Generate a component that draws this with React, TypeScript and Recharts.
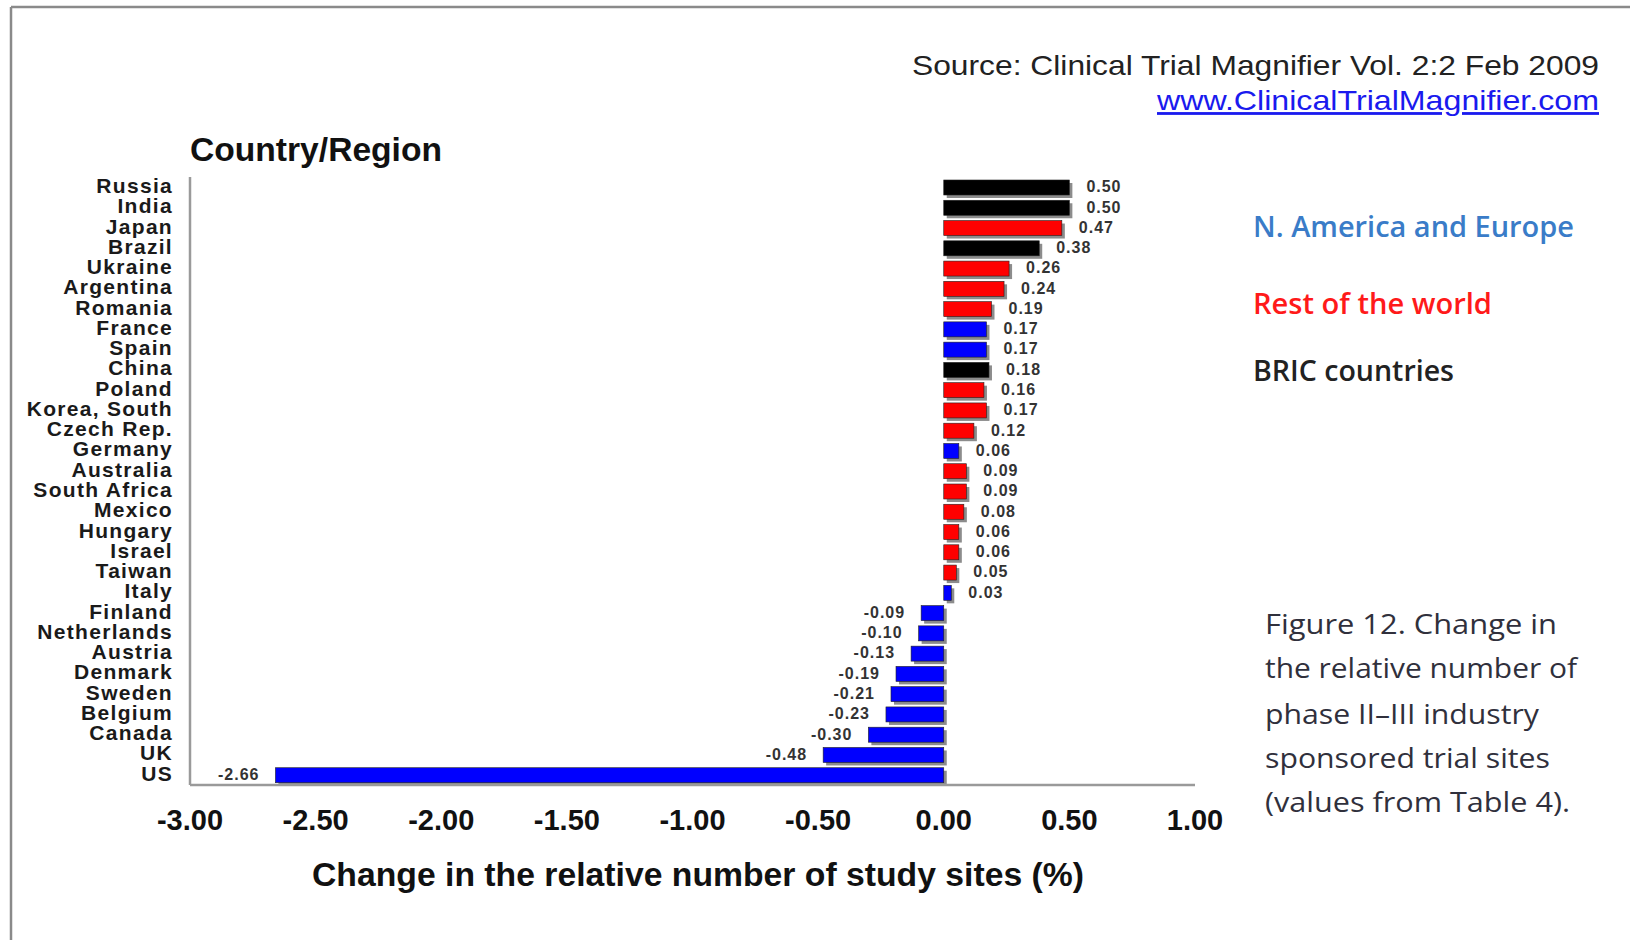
import React from "react";
import { BarChart, Bar, XAxis, YAxis, Cell, LabelList } from "recharts";

const categories = [
  "Russia", "India", "Japan", "Brazil", "Ukraine", "Argentina", "Romania", "France", "Spain", "China",
  "Poland", "Korea, South", "Czech Rep.", "Germany", "Australia", "South Africa", "Mexico", "Hungary", "Israel", "Taiwan",
  "Italy", "Finland", "Netherlands", "Austria", "Denmark", "Sweden", "Belgium", "Canada", "UK", "US",
];
const values = [
  0.5, 0.5, 0.47, 0.38, 0.26, 0.24, 0.19, 0.17, 0.17, 0.18,
  0.16, 0.17, 0.12, 0.06, 0.09, 0.09, 0.08, 0.06, 0.06, 0.05,
  0.03, -0.09, -0.1, -0.13, -0.19, -0.21, -0.23, -0.3, -0.48, -2.66,
];
// B = BRIC, R = rest of the world, N = N. America and Europe
const groups = [
  "B", "B", "R", "B", "R", "R", "R", "N", "N", "B",
  "R", "R", "R", "N", "R", "R", "R", "R", "R", "R",
  "N", "N", "N", "N", "N", "N", "N", "N", "N", "N",
];
const xTicks = [-3, -2.5, -2, -1.5, -1, -0.5, 0, 0.5, 1];

const groupColors: Record<string, string> = { B: "#000000", R: "#ff0000", N: "#0000ff" };

const data = categories.map((name, i) => ({ name, value: values[i], group: groups[i] }));

const BarShape = (props: any) => {
  const { x, y, width, height, fill } = props;
  const x0 = width < 0 ? x + width : x;
  const w = Math.abs(width);
  return (
    <g>
      <rect x={x0 + 3} y={y + 3} width={w} height={height} fill="#8c8c8c" />
      <rect x={x0} y={y} width={w} height={height} fill={fill} stroke="#222" strokeWidth={0.6} />
    </g>
  );
};

const ValueLabel = (props: any) => {
  const { x, y, width, height, value } = props;
  const x0 = width < 0 ? x + width : x;
  const w = Math.abs(width);
  const pos = value >= 0;
  return (
    <text
      x={pos ? x0 + w + 17 : x0 - 16}
      y={y + height / 2}
      dy="0.3em"
      textAnchor={pos ? "start" : "end"}
      fontFamily="'Liberation Sans', Arial, sans-serif"
      fontWeight="bold"
      fontSize={16}
      letterSpacing={1}
      fill="#333"
    >
      {Number(value).toFixed(2)}
    </text>
  );
};

const YTick = (props: any) => {
  const { x, y, payload } = props;
  return (
    <text
      x={x}
      y={y}
      dy="0.28em"
      textAnchor="end"
      fontFamily="'Liberation Sans', Arial, sans-serif"
      fontWeight="bold"
      fontSize={21}
      letterSpacing={1.3}
      fill="#1a1a1a"
    >
      {payload.value}
    </text>
  );
};

const XTick = (props: any) => {
  const { x, y, payload } = props;
  return (
    <text
      x={x}
      y={y}
      dy="0.32em"
      textAnchor="middle"
      fontFamily="'Liberation Sans', Arial, sans-serif"
      fontWeight="bold"
      fontSize={29}
      fill="#111"
    >
      {Number(payload.value).toFixed(2)}
    </text>
  );
};

const captionLines = [
  "Figure 12. Change in",
  "the relative number of",
  "phase II\u2013III industry",
  "sponsored trial sites",
  "(values from Table 4).",
];
const captionWidths = [292, 312, 274, 285, 305];
const captionY = [624, 668, 714, 758, 802];

export default function App() {
  return (
    <div style={{ position: "absolute", left: 0, top: 0, width: 1630, height: 940, background: "#fff" }}>
      <BarChart
        width={1630}
        height={940}
        data={data}
        layout="vertical"
        margin={{ top: 177, right: 435, bottom: 95, left: 0 }}
        barSize={15}
      >
        <XAxis
          type="number"
          domain={[-3, 1]}
          ticks={xTicks}
          allowDataOverflow
          height={60}
          tickLine={false}
          tickSize={0}
          tickMargin={36}
          axisLine={{ stroke: "#9a9a9a", strokeWidth: 2.5 }}
          tick={<XTick />}
          interval={0}
        />
        <YAxis
          type="category"
          dataKey="name"
          width={190}
          tickLine={false}
          tickSize={0}
          tickMargin={17}
          axisLine={{ stroke: "#9a9a9a", strokeWidth: 2.5 }}
          tick={<YTick />}
          interval={0}
        />
        <Bar dataKey="value" isAnimationActive={false} shape={<BarShape />}>
          {data.map((d, i) => (
            <Cell key={i} fill={groupColors[d.group]} />
          ))}
          <LabelList dataKey="value" content={<ValueLabel />} />
        </Bar>
      </BarChart>
      <svg
        width={1630}
        height={940}
        style={{ position: "absolute", left: 0, top: 0, pointerEvents: "none" }}
      >
        <line x1={11} y1={7} x2={1630} y2={7} stroke="#8a8a8a" strokeWidth={2.5} />
        <line x1={11} y1={7} x2={11} y2={940} stroke="#8a8a8a" strokeWidth={2.5} />
        <text
          x={1599}
          y={65}
          dy="0.36em"
          textAnchor="end"
          fontFamily="'Liberation Sans', Arial, sans-serif"
          fontSize={28}
          fill="#222"
          textLength={687}
          lengthAdjust="spacingAndGlyphs"
        >
          Source: Clinical Trial Magnifier Vol. 2:2 Feb 2009
        </text>
        <text
          x={1599}
          y={100}
          dy="0.36em"
          textAnchor="end"
          fontFamily="'Liberation Sans', Arial, sans-serif"
          fontSize={28}
          fill="#1a1aee"
          textDecoration="underline"
          textLength={442}
          lengthAdjust="spacingAndGlyphs"
        >
          www.ClinicalTrialMagnifier.com
        </text>
        <text
          x={190}
          y={149}
          dy="0.36em"
          fontFamily="'Liberation Sans', Arial, sans-serif"
          fontWeight="bold"
          fontSize={33}
          fill="#111"
          textLength={252}
          lengthAdjust="spacingAndGlyphs"
        >
          Country/Region
        </text>
        <text
          x={698}
          y={874}
          dy="0.36em"
          textAnchor="middle"
          fontFamily="'Liberation Sans', Arial, sans-serif"
          fontWeight="bold"
          fontSize={33}
          fill="#111"
          textLength={772}
          lengthAdjust="spacingAndGlyphs"
        >
          Change in the relative number of study sites (%)
        </text>
        <text x={1253} y={227} dy="0.36em" fontFamily="'Open Sans', sans-serif" fontWeight={600} fontSize={28} fill="#3a7cc8" textLength={321} lengthAdjust="spacingAndGlyphs">
          N. America and Europe
        </text>
        <text x={1253} y={304} dy="0.36em" fontFamily="'Open Sans', sans-serif" fontWeight={600} fontSize={28} fill="#ff1a1a" textLength={239} lengthAdjust="spacingAndGlyphs">
          Rest of the world
        </text>
        <text x={1253} y={371} dy="0.36em" fontFamily="'Open Sans', sans-serif" fontWeight={600} fontSize={28} fill="#222" textLength={201} lengthAdjust="spacingAndGlyphs">
          BRIC countries
        </text>
        {captionLines.map((line, i) => (
          <text
            key={i}
            x={1265}
            y={captionY[i]}
            dy="0.36em"
            fontFamily="'Open Sans', sans-serif"
            fontSize={28}
            fill="#30303c"
            textLength={captionWidths[i]}
            lengthAdjust="spacingAndGlyphs"
          >
            {line}
          </text>
        ))}
      </svg>
    </div>
  );
}
